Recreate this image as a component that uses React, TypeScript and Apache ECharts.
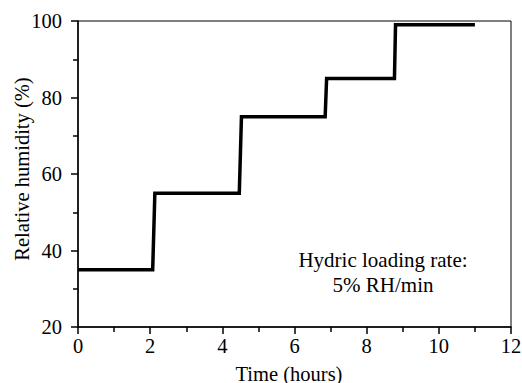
import React, { useEffect, useRef } from "react";
import * as echarts from "echarts";

const timeHours = [0, 2.07, 2.13, 4.47, 4.53, 6.85, 6.89, 8.77, 8.8, 11];
const relHumidity = [35, 35, 55, 55, 75, 75, 85, 85, 99, 99];
const xTitle = "Time (hours)";
const yTitle = "Relative humidity (%)";
const noteLines = ["Hydric loading rate:", "5% RH/min"];

export default function App() {
  const ref = useRef<HTMLDivElement>(null);
  useEffect(() => {
    if (!ref.current) return;
    const chart = echarts.init(ref.current, null, { renderer: "svg" });
    const font = "'Liberation Serif', 'Times New Roman', serif";
    const axisCommon = {
      axisLine: { show: true, lineStyle: { color: "#000", width: 1.5 } },
      axisTick: { show: true, inside: false, length: 7, lineStyle: { color: "#000", width: 1.5 } },
      minorTick: { show: true, splitNumber: 2, length: 5, lineStyle: { color: "#000", width: 1.5 } },
      splitLine: { show: false },
    };
    chart.setOption({
      animation: false,
      backgroundColor: "#fff",
      textStyle: { fontFamily: font },
      grid: {
        left: 78,
        right: 11,
        top: 21,
        bottom: 56,
        containLabel: false,
        outerBoundsMode: "none",
        show: true,
        borderColor: "#000",
        borderWidth: 1,
        backgroundColor: "transparent",
      },
      xAxis: {
        type: "value",
        min: 0,
        max: 12,
        interval: 2,
        name: xTitle,
        nameLocation: "middle",
        nameGap: 36,
        nameMoveOverlap: false,
        nameTextStyle: { color: "#000", fontFamily: font, fontSize: 20.5, padding: [0, 11, 0, 0] },
        ...axisCommon,
        axisLabel: { color: "#000", fontFamily: font, fontSize: 20.5, margin: 8 },
      },
      yAxis: {
        type: "value",
        min: 20,
        max: 100,
        interval: 20,
        name: yTitle,
        nameLocation: "middle",
        nameGap: 46,
        nameMoveOverlap: false,
        nameTextStyle: { color: "#000", fontFamily: font, fontSize: 20.5, padding: [0, 0, 0, 10] },
        ...axisCommon,
        axisLabel: { color: "#000", fontFamily: font, fontSize: 20.5, margin: 16 },
      },
      series: [
        {
          type: "line",
          data: timeHours.map((t, i) => [t, relHumidity[i]]),
          showSymbol: false,
          symbol: "none",
          lineStyle: { color: "#000", width: 3.5, join: "miter", cap: "butt" },
        },
      ],
      graphic: noteLines.map((txt, i) => ({
        type: "text",
        x: 383,
        y: 260 + i * 25,
        style: {
          text: txt,
          fill: "#000",
          fontFamily: font,
          fontSize: 21,
          textAlign: "center",
          textVerticalAlign: "middle",
        },
      })),
    });
    return () => chart.dispose();
  }, []);
  return (
    <div
      ref={ref}
      style={{ position: "fixed", left: 0, top: 0, width: 522, height: 383, background: "#fff" }}
    />
  );
}
